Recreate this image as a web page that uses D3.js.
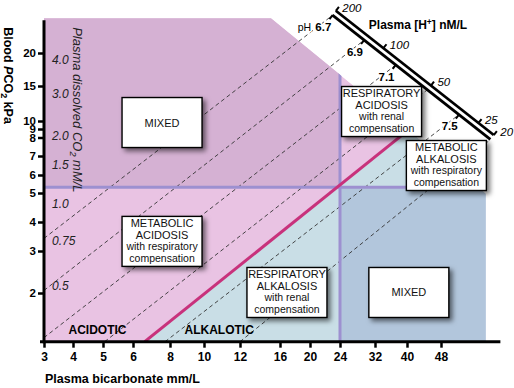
<!DOCTYPE html>
<html>
<head>
<meta charset="utf-8">
<script src="https://cdn.jsdelivr.net/npm/d3@7"></script>
<style>
  body { margin: 0; background: #fff; }
  svg { display: block; font-family: "Liberation Sans", Arial, sans-serif; }
  .axis line { stroke: #000; stroke-width: 2.5; }
  .axis text { font-size: 12px; font-weight: bold; fill: #000; }
  .y-axis text { font-size: 11.5px; }
  .box-text { fill: #111; }
  .halo { paint-order: stroke; stroke: #fff; stroke-width: 3px; stroke-linejoin: round; }
</style>
</head>
<body>
<svg id="chart"></svg>
<script>
// axis ticks
const xTicks = [3, 4, 5, 6, 8, 10, 12, 16, 20, 24, 32, 40, 48];
const yTicks = [2, 3, 4, 5, 6, 7, 8, 9, 10, 15, 20];

// shaded field edges (HCO3 mm/L, PCO2 kPa)
const hco3Min = 3;
const hco3Max = 61;
const pco2Min = 1.25;
const pco2Max = 27.1;
const cutHco3 = [15, 61];
const cutPco2 = [27.1, 4.97];

// normal point
const normalHco3 = 24;
const normalPco2 = 5.3;

// pH 7.4 line, lower end
const redPh = 7.4;
const redLowHco3 = 6.57;
const redLowPco2 = 1.25;

// dashed pH isopleths, where they leave the field at the bottom / left
const isoPh = [6.7, 6.9, 7.1, 7.3, 7.5, 7.7];
const isoLowHco3 = [3, 3, 3, 5.05, 7.7, 12];
const isoLowPco2 = [3.4, 2.05, 1.3, 1.25, 1.25, 1.25];

// plasma dissolved CO2 labels down the left side
const co2Labels = ['4.0', '3.0', '2.0', '1.5', '1.0', '0.75', '0.5'];
const co2Pco2 = [18.8, 13.6, 8.17, 6.51, 4.6, 3.3, 2.15];

// [H+] nomogram ends and ticks
const nomoHco3 = [23.4, 63.7];
const nomoPco2 = [28.9, 8.28];
const hTicks = [200, 100, 50, 25, 20];
const phTicks = [6.7, 6.9, 7.1, 7.5];

// boxes
const boxLines = [
  ['MIXED'],
  ['RESPIRATORY', 'ACIDOSIS', 'with renal', 'compensation'],
  ['METABOLIC', 'ALKALOSIS', 'with respiratory', 'compensation'],
  ['METABOLIC', 'ACIDOSIS', 'with respiratory', 'compensation'],
  ['RESPIRATORY', 'ALKALOSIS', 'with renal', 'compensation'],
  ['MIXED']
];
const boxHco3 = [7.52, 33.5, 49.4, 7.52, 16.85, 40.4];
const boxPco2 = [9.80, 11.16, 6.48, 3.30, 2.01, 2.01];

const zoneLabels = ['ACIDOTIC', 'ALKALOTIC'];
const zoneHco3 = [4.8, 10.8];
const zonePco2 = [1.40, 1.40];

class AcidBaseChart {

  constructor(_config) {
    this.config = {
      parentElement: _config.parentElement,
      containerWidth: _config.containerWidth || 514,
      containerHeight: _config.containerHeight || 388,
      xTickPx: _config.xTickPx,
      yTickPx: _config.yTickPx,
      boxWidth: _config.boxWidth || 80,
      boxHeight: _config.boxHeight || 50,
      nomoGap: 5.5
    };
    this.initVis();
  }

  initVis() {
    let vis = this;

    vis.svg = d3.select(vis.config.parentElement)
        .attr('width', vis.config.containerWidth)
        .attr('height', vis.config.containerHeight);

    // printed axes are log-like but hand spaced -> piecewise log scales
    vis.xScale = d3.scaleLog().domain(xTicks).range(vis.config.xTickPx);
    vis.yScale = d3.scaleLog().domain(yTicks).range(vis.config.yTickPx);

    vis.xAxis = d3.axisBottom(vis.xScale)
        .tickValues(xTicks)
        .tickFormat(d3.format('d'))
        .tickSize(6)
        .tickPadding(5)
        .tickSizeOuter(0);

    vis.yAxis = d3.axisLeft(vis.yScale)
        .tickValues(yTicks)
        .tickFormat(d3.format('d'))
        .tickSize(6)
        .tickPadding(2)
        .tickSizeOuter(0);

    vis.defs = vis.svg.append('defs');
    vis.defs.append('filter')
        .attr('id', 'shadow')
        .attr('x', '-20%').attr('y', '-20%')
        .attr('width', '150%').attr('height', '150%')
      .append('feDropShadow')
        .attr('dx', 3).attr('dy', 3)
        .attr('stdDeviation', 2.4)
        .attr('flood-color', '#000')
        .attr('flood-opacity', 0.55);

    vis.renderVis();
  }

  renderVis() {
    let vis = this;
    const P = (h, p) => [vis.xScale(h), vis.yScale(p)];
    const line = d3.line();
    const gap = vis.config.nomoGap;

    // shaded field outline
    const field = [
      P(hco3Min, pco2Max),
      P(cutHco3[0], cutPco2[0]),
      P(cutHco3[1], cutPco2[1]),
      P(hco3Max, pco2Min),
      P(hco3Min, pco2Min)
    ];
    vis.defs.append('clipPath').attr('id', 'field-clip')
      .append('path').attr('d', line(field) + 'Z');

    // nomogram geometry
    const A = P(nomoHco3[0], nomoPco2[0]);
    const B = P(nomoHco3[1], nomoPco2[1]);
    const len = Math.hypot(B[0] - A[0], B[1] - A[1]);
    const ux = (B[0] - A[0]) / len, uy = (B[1] - A[1]) / len;
    const nx = -uy, ny = ux; // points down-left
    vis.hScale = d3.scaleLog().domain([200, 20]).range([0, len]);
    const along = (s, off) => [A[0] + ux * s + nx * off, A[1] + uy * s + ny * off];
    const phToH = ph => Math.pow(10, 9 - ph);

    const xL = vis.xScale(hco3Min), xR = vis.xScale(hco3Max);
    const yB = vis.yScale(pco2Min), yT = vis.yScale(pco2Max);
    const xN = vis.xScale(normalHco3), yN = vis.yScale(normalPco2);

    const redLo = P(redLowHco3, redLowPco2);
    const redHi = along(vis.hScale(phToH(redPh)), gap);

    // regions
    const regions = vis.svg.append('g').attr('clip-path', 'url(#field-clip)');
    regions.append('path').attr('d', line(field) + 'Z').attr('fill', '#e9c3e3');
    regions.append('path')
        .attr('d', line([redLo, redHi, [xR + 20, redHi[1]], [xR + 20, yB]]) + 'Z')
        .attr('fill', '#c9dee6');
    regions.append('rect')
        .attr('x', xL).attr('y', yT - 5)
        .attr('width', xN - xL).attr('height', yN - yT + 5)
        .attr('fill', '#d5b1d3');
    regions.append('rect')
        .attr('x', xN).attr('y', yN)
        .attr('width', xR - xN + 20).attr('height', yB - yN)
        .attr('fill', '#b2c6dc');

    // dashed isopleths
    vis.svg.append('g').selectAll('.iso')
        .data(isoPh)
      .join('path')
        .attr('class', 'iso')
        .attr('d', (d, i) => line([P(isoLowHco3[i], isoLowPco2[i]), along(vis.hScale(phToH(d)), gap)]))
        .attr('fill', 'none')
        .attr('stroke', '#333')
        .attr('stroke-width', 0.9)
        .attr('stroke-dasharray', '4,3');

    // normal lines and pH 7.4 line
    const lines = vis.svg.append('g').attr('clip-path', 'url(#field-clip)');
    lines.append('line')
        .attr('x1', xN).attr('x2', xN).attr('y1', yT - 5).attr('y2', yB)
        .attr('stroke', '#9d90d0').attr('stroke-width', 3);
    lines.append('line')
        .attr('x1', xL).attr('x2', xR + 20).attr('y1', yN).attr('y2', yN)
        .attr('stroke', '#9d90d0').attr('stroke-width', 3);
    lines.append('path')
        .attr('d', line([redLo, redHi]))
        .attr('stroke', '#c8327c').attr('stroke-width', 3);

    // nomogram double line
    const nomo = vis.svg.append('g');
    [0, gap].forEach(off => {
      nomo.append('path')
          .attr('d', line([along(0, off), along(len, off)]))
          .attr('stroke', '#000').attr('stroke-width', 2.8);
    });
    nomo.selectAll('.h-tick')
        .data(hTicks)
      .join('path')
        .attr('class', 'h-tick')
        .attr('d', d => line([along(vis.hScale(d), 0), along(vis.hScale(d), -5)]))
        .attr('stroke', '#000').attr('stroke-width', 2);
    nomo.selectAll('.h-label')
        .data(hTicks)
      .join('text')
        .attr('class', 'h-label')
        .attr('x', d => along(vis.hScale(d), -4)[0] + 4)
        .attr('y', d => along(vis.hScale(d), -4)[1] + 4)
        .attr('font-size', 11.5)
        .attr('font-style', 'italic')
        .text(d => d);
    nomo.selectAll('.ph-tick')
        .data(phTicks)
      .join('path')
        .attr('class', 'ph-tick')
        .attr('d', d => line([along(vis.hScale(phToH(d)), gap), along(vis.hScale(phToH(d)), gap + 5)]))
        .attr('stroke', '#000').attr('stroke-width', 2);
    nomo.selectAll('.ph-label')
        .data(phTicks)
      .join('text')
        .attr('class', 'ph-label halo')
        .attr('x', d => along(vis.hScale(phToH(d)), gap + 15)[0])
        .attr('y', d => along(vis.hScale(phToH(d)), gap + 15)[1] + 4)
        .attr('text-anchor', 'middle')
        .attr('font-size', 11.5)
        .attr('font-weight', 'bold')
        .text(d => d.toFixed(1));
    nomo.append('text')
        .attr('class', 'halo')
        .attr('x', along(0, gap + 15)[0] - 12)
        .attr('y', along(0, gap + 15)[1] + 4)
        .attr('text-anchor', 'end')
        .attr('font-size', 10.5)
        .text('pH');
    const title = nomo.append('text')
        .attr('x', A[0] + 33)
        .attr('y', A[1] + 18)
        .attr('font-size', 12)
        .attr('font-weight', 'bold');
    title.append('tspan').text('Plasma [H');
    title.append('tspan').attr('dy', -4).attr('font-size', 8.5).text('+');
    title.append('tspan').attr('dy', 4).text('] nM/L');

    // boxes
    const bw = vis.config.boxWidth, bh = vis.config.boxHeight;
    const boxes = vis.svg.append('g').selectAll('.box')
        .data(boxLines)
      .join('g')
        .attr('class', 'box')
        .attr('transform', (d, i) => `translate(${P(boxHco3[i], boxPco2[i])})`);
    boxes.append('rect')
        .attr('x', -bw / 2).attr('y', -bh / 2)
        .attr('width', bw).attr('height', bh)
        .attr('fill', '#fff')
        .attr('stroke', '#000')
        .attr('stroke-width', 1.4)
        .attr('filter', 'url(#shadow)');
    boxes.selectAll('text')
        .data(d => d.map((t, j) => ({t, j, n: d.length})))
      .join('text')
        .attr('class', 'box-text')
        .attr('text-anchor', 'middle')
        .attr('y', d => d.n === 1 ? 4 : -14.5 + 11.6 * d.j)
        .attr('font-size', d => d.t === d.t.toUpperCase() ? 11 : 10.5)
        .text(d => d.t);

    // zone labels
    vis.svg.append('g').selectAll('.zone')
        .data(zoneLabels)
      .join('text')
        .attr('class', 'zone')
        .attr('x', (d, i) => vis.xScale(zoneHco3[i]))
        .attr('y', (d, i) => vis.yScale(zonePco2[i]) + 4)
        .attr('text-anchor', 'middle')
        .attr('font-size', 12)
        .attr('font-weight', 'bold')
        .text(d => d);

    // dissolved CO2 scale
    vis.svg.append('g').selectAll('.co2')
        .data(co2Labels)
      .join('text')
        .attr('class', 'co2')
        .attr('x', xL + 8)
        .attr('y', (d, i) => vis.yScale(co2Pco2[i]) + 4)
        .attr('font-size', 12)
        .attr('font-style', 'italic')
        .attr('fill', '#222')
        .text(d => d);

    vis.svg.append('text')
        .attr('transform', `translate(${xL + 28.5},${yT + 9}) rotate(90)`)
        .attr('font-size', 13)
        .attr('font-style', 'italic')
        .attr('fill', '#222')
        .call(t => {
          t.append('tspan').text('Plasma dissolved CO');
          t.append('tspan').attr('dy', 3).attr('font-size', 9).text('2');
          t.append('tspan').attr('dy', -3).text(' mM/L');
        });

    // axes
    const xAxisG = vis.svg.append('g')
        .attr('class', 'axis x-axis')
        .attr('transform', `translate(0,${yB})`)
        .call(vis.xAxis);
    const yAxisG = vis.svg.append('g')
        .attr('class', 'axis y-axis')
        .attr('transform', `translate(${xL},0)`)
        .call(vis.yAxis);
    [xAxisG, yAxisG].forEach(g => {
      g.attr('font-family', null).attr('font-size', null);
      g.select('.domain').remove();
    });

    vis.svg.append('line')
        .attr('x1', xL - 4).attr('x2', vis.xScale(66))
        .attr('y1', yB).attr('y2', yB)
        .attr('stroke', '#000').attr('stroke-width', 3);
    vis.svg.append('line')
        .attr('x1', xL).attr('x2', xL)
        .attr('y1', yT + 2).attr('y2', yB + 1.5)
        .attr('stroke', '#000').attr('stroke-width', 3);

    vis.svg.append('text')
        .attr('x', xL + 1)
        .attr('y', yB + 41)
        .attr('font-size', 12.5)
        .attr('font-weight', 'bold')
        .text('Plasma bicarbonate mm/L');

    vis.svg.append('text')
        .attr('transform', `translate(${xL - 40},${yT + 9}) rotate(90)`)
        .attr('font-size', 12.5)
        .attr('font-weight', 'bold')
        .call(t => {
          t.append('tspan').text('Blood ');
          t.append('tspan').attr('font-style', 'italic').text('P');
          t.append('tspan').text('CO');
          t.append('tspan').attr('dy', 3).attr('font-size', 9).text('2');
          t.append('tspan').attr('dy', -3).text(' kPa');
        });
  }
}

new AcidBaseChart({
  parentElement: '#chart',
  containerWidth: 514,
  containerHeight: 388,
  xTickPx: [44, 73, 103, 133, 170, 204, 240, 280, 310, 340, 375, 407, 441],
  yTickPx: [293, 251, 222, 193, 175, 156, 137.5, 129, 121, 86, 53]
});
</script>
</body>
</html>
